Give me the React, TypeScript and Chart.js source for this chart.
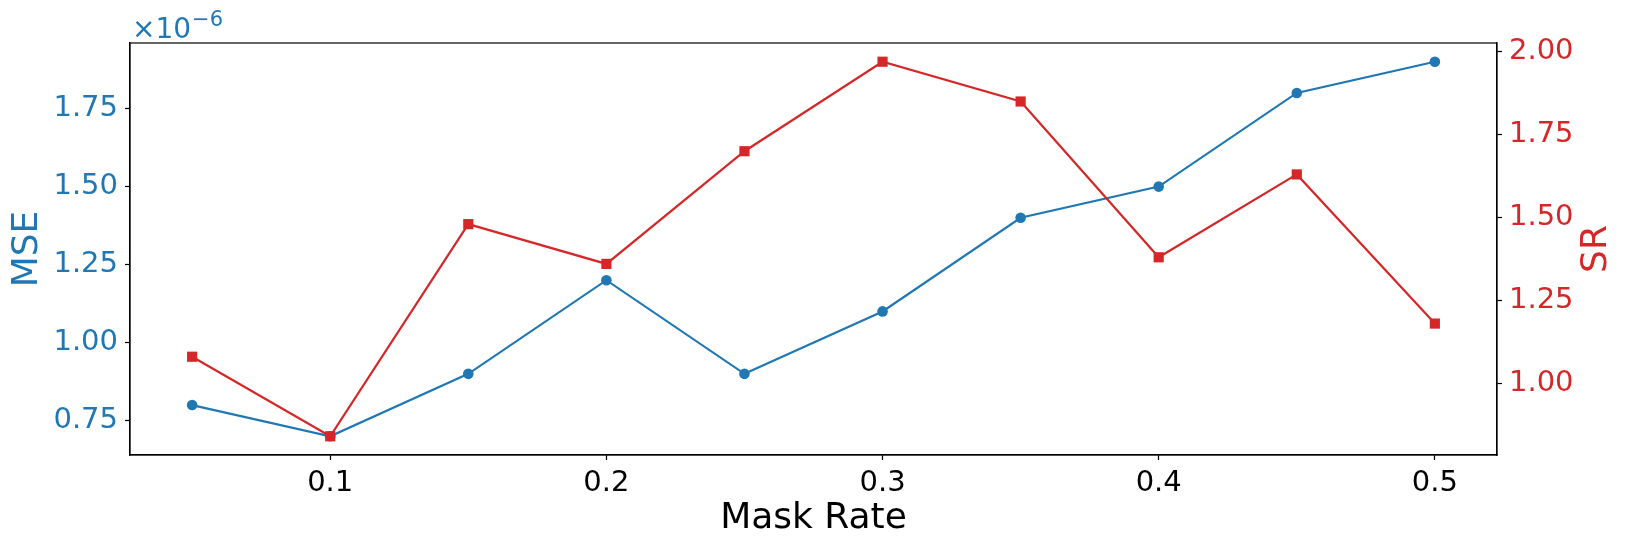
import React, { useEffect, useRef } from "react";
import { Chart, registerables } from "chart.js";

Chart.register(...registerables);

const maskRates = [0.05, 0.1, 0.15, 0.2, 0.25, 0.3, 0.35, 0.4, 0.45, 0.5];
const mseValues = [0.8e-6, 0.7e-6, 0.9e-6, 1.2e-6, 0.9e-6, 1.1e-6, 1.4e-6, 1.5e-6, 1.8e-6, 1.9e-6];
const srValues = [1.08, 0.84, 1.48, 1.36, 1.7, 1.97, 1.85, 1.38, 1.63, 1.18];
const xTicks = [0.1, 0.2, 0.3, 0.4, 0.5];
const mseTicks = [0.75e-6, 1.0e-6, 1.25e-6, 1.5e-6, 1.75e-6];
const srTicks = [1.0, 1.25, 1.5, 1.75, 2.0];

const BLUE = "#1f77b4";
const RED = "#d62728";
const FONT = "'DejaVu Sans', sans-serif";

function padRange(vals: number[], frac = 0.05) {
  const mn = Math.min(...vals);
  const mx = Math.max(...vals);
  const d = (mx - mn) * frac;
  return [mn - d, mx + d];
}

const overlayPlugin = {
  id: "overlay",
  afterDraw(chart: any) {
    const { ctx, chartArea } = chart;
    ctx.save();
    ctx.strokeStyle = "#000";
    ctx.lineWidth = 1.2;
    ctx.strokeRect(chartArea.left, chartArea.top, chartArea.right - chartArea.left, chartArea.bottom - chartArea.top);
    // offset text
    ctx.fillStyle = BLUE;
    ctx.textBaseline = "alphabetic";
    ctx.textAlign = "left";
    ctx.font = `28px ${FONT}`;
    const x0 = chartArea.left + 2;
    ctx.fillText("×10", x0, 38);
    const w = ctx.measureText("×10").width;
    ctx.font = `21px ${FONT}`;
    ctx.fillText("−6", x0 + w + 1, 26);
    // SR title
    ctx.fillStyle = RED;
    ctx.font = `36px ${FONT}`;
    ctx.textAlign = "center";
    ctx.textBaseline = "middle";
    ctx.translate(1597, (chartArea.top + chartArea.bottom) / 2);
    ctx.rotate(-Math.PI / 2);
    ctx.fillText("SR", 0, 0);
    ctx.restore();
  },
};

export default function App() {
  const ref = useRef<HTMLCanvasElement | null>(null);
  useEffect(() => {
    if (!ref.current) return;
    const [xMin, xMax] = padRange(maskRates);
    const [mMin, mMax] = padRange(mseValues);
    const [sMin, sMax] = padRange(srValues);
    const chart = new Chart(ref.current, {
      type: "line",
      data: {
        datasets: [
          {
            label: "SR",
            data: maskRates.map((x, i) => ({ x, y: srValues[i] })),
            yAxisID: "y1",
            borderColor: RED,
            backgroundColor: RED,
            borderWidth: 2.2,
            pointStyle: "rect",
            pointRadius: 7.2,
            pointBorderWidth: 0,
            order: 0,
          },
          {
            label: "MSE",
            data: maskRates.map((x, i) => ({ x, y: mseValues[i] })),
            yAxisID: "y",
            borderColor: BLUE,
            backgroundColor: BLUE,
            borderWidth: 2.2,
            pointStyle: "circle",
            pointRadius: 5.3,
            pointBorderWidth: 0,
            order: 1,
          },
        ],
      },
      options: {
        responsive: false,
        animation: false,
        devicePixelRatio: 1,
        layout: { padding: { top: 43, left: 0, right: 0, bottom: 0 } },
        plugins: { legend: { display: false }, tooltip: { enabled: false } },
        scales: {
          x: {
            type: "linear",
            min: xMin,
            max: xMax,
            afterBuildTicks: (s: any) => { s.ticks = xTicks.map((v) => ({ value: v })); },
            afterFit: (s: any) => { s.height = 88; },
            grid: { drawOnChartArea: false, drawTicks: true, tickLength: 5, tickWidth: 1.2, tickColor: "#000" },
            border: { display: true, color: "#000", width: 1.2 },
            ticks: { color: "#000", font: { family: FONT, size: 29 }, padding: 6, maxRotation: 0, callback: (v: any) => String(Number(v).toFixed(1)) },
            title: { display: true, text: "Mask Rate", color: "#000", font: { family: FONT, size: 36 }, padding: { top: 0, bottom: 3 } },
          },
          y: {
            type: "linear",
            position: "left",
            min: mMin,
            max: mMax,
            afterBuildTicks: (s: any) => { s.ticks = mseTicks.map((v) => ({ value: v })); },
            afterFit: (s: any) => { s.width = 130; },
            grid: { drawOnChartArea: false, drawTicks: true, tickLength: 5, tickWidth: 1.2, tickColor: "#000" },
            border: { display: true, color: "#000", width: 1.2 },
            ticks: { color: BLUE, font: { family: FONT, size: 29 }, padding: 7, callback: (v: any) => (Number(v) * 1e6).toFixed(2) },
            title: { display: true, text: "MSE", color: BLUE, font: { family: FONT, size: 36 }, padding: { top: 6, bottom: 0 } },
          },
          y1: {
            type: "linear",
            position: "right",
            min: sMin,
            max: sMax,
            afterBuildTicks: (s: any) => { s.ticks = srTicks.map((v) => ({ value: v })); },
            afterFit: (s: any) => { s.width = 130; },
            grid: { drawOnChartArea: false, drawTicks: true, tickLength: 5, tickWidth: 1.2, tickColor: "#000" },
            border: { display: true, color: "#000", width: 1.2 },
            ticks: { color: RED, font: { family: FONT, size: 29 }, padding: 7, callback: (v: any) => Number(v).toFixed(2) },
          },
        },
      },
      plugins: [overlayPlugin],
    } as any);
    return () => chart.destroy();
  }, []);
  return (
    <div style={{ position: "fixed", left: 0, top: 0, width: 1627, height: 543, background: "#fff" }}>
      <canvas ref={ref} width={1627} height={543} style={{ display: "block" }} />
    </div>
  );
}
